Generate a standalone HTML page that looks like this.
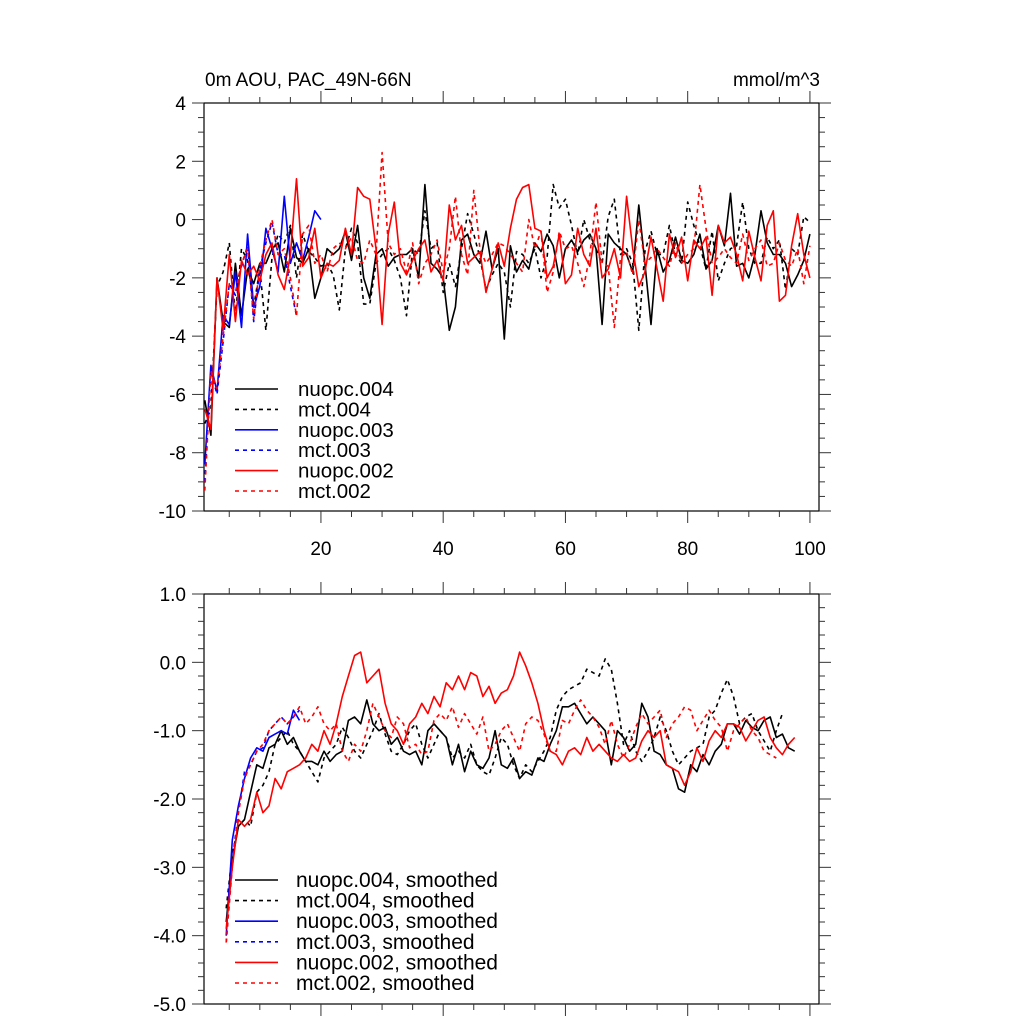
<!DOCTYPE html>
<html><head><meta charset="utf-8"><style>
html,body{margin:0;padding:0;background:#fff;}
svg{display:block;font-family:"Liberation Sans",sans-serif;}
</style></head><body>
<svg id="chart" width="1024" height="1024" viewBox="0 0 1024 1024" xmlns="http://www.w3.org/2000/svg">
<text x="205" y="86" font-size="19">0m AOU, PAC_49N-66N</text>
<text x="820" y="86" font-size="19" text-anchor="end">mmol/m^3</text>
</svg>
<script>
// ---- data ----
const rawNuopc004=[-6.2,-7.4,-2.0,-3.5,-3.7,-1.5,-3.3,-1.7,-2.2,-1.5,-1.5,-1.0,-0.8,-1.8,-0.3,-1.3,-1.5,-1.0,-2.7,-2.0,-1.0,-1.2,-1.0,-0.4,-1.4,-0.2,-2.0,-2.7,-1.2,-1.0,-1.6,-1.3,-1.2,-1.2,-1.0,-2.0,1.2,-1.5,-1.7,-2.0,-3.8,-3.0,-0.7,-0.5,-1.2,-1.5,-0.4,-1.7,-1.0,-4.1,-0.9,-1.8,-1.4,-1.7,-0.8,-1.1,-0.5,-0.9,-2.0,-1.0,-0.7,-1.1,-0.7,-0.5,-1.0,-3.6,-0.5,-0.8,-1.0,-1.2,-1.8,0.5,-1.5,-3.6,-1.0,-1.8,-1.4,-0.6,-1.4,-1.5,-1.2,-0.5,-1.7,-1.4,-0.2,-0.9,0.9,-1.6,-1.5,-2.0,-1.2,0.3,-0.8,-1.2,-1.2,-1.5,-2.3,-1.9,-1.4,-0.5];
const rawMct004=[-7.0,-6.5,-2.3,-1.8,-0.8,-3.3,-1.0,-1.4,-3.0,-1.7,-3.8,-1.3,-0.5,-0.8,-0.2,-2.0,-0.5,-1.1,-1.3,-1.6,-1.5,-1.9,-3.1,-1.0,-0.3,-0.8,-2.9,-2.9,-1.5,-1.2,-1.0,-1.4,-2.0,-3.3,-1.0,-1.2,0.3,-1.0,-0.8,-2.5,-1.5,-2.3,-1.0,0.2,-0.5,-1.3,-2.4,-1.9,-1.5,-1.8,-3.0,-1.1,-1.2,-1.5,-1.0,-2.0,-1.3,1.2,0.4,0.7,-0.2,-1.2,0.0,-0.7,-1.0,-1.5,0.1,0.7,-1.2,-1.0,-1.5,-3.8,-1.1,-0.4,-1.2,-1.2,-0.2,-1.2,-1.5,0.6,-0.2,-0.9,-1.7,-0.4,-2.1,-1.5,-1.0,-0.9,0.6,-1.0,-1.5,-1.5,-0.6,-1.0,-0.7,-2.4,-1.0,-1.2,0.1,-0.1];
const rawNuopc003=[-8.4,-5.0,-5.9,-3.3,-3.6,-1.8,-3.7,-0.5,-3.0,-2.3,-0.3,-1.0,-1.8,0.8,-1.5,-0.8,-1.4,-0.6,0.3,0.0];
const rawMct003=[-9.0,-5.2,-6.0,-4.2,-2.2,-2.6,-1.6,-0.9,-3.5,-1.7,-0.8,-0.1,-1.2,-1.2,-2.3,-3.3];
const rawNuopc002=[-6.5,-7.2,-2.0,-3.8,-1.2,-3.5,-1.4,-1.9,-1.6,-2.1,-1.2,-0.8,-1.9,-2.4,-1.2,1.4,-1.6,-1.3,-0.3,-2.0,-1.5,-1.6,-1.4,-0.3,-1.2,1.1,0.8,0.7,-1.0,-3.6,-0.5,0.6,-1.5,-1.9,-1.4,-1.0,-0.7,-1.8,-1.4,-2.1,0.5,-0.7,-0.2,-1.5,-1.3,-1.1,-2.5,-1.7,-0.8,-1.6,-0.3,0.7,1.1,1.2,-0.3,-0.4,-2.0,-1.6,-0.5,-2.2,-1.9,-0.3,-1.2,-1.6,-0.3,-2.0,-1.7,-1.0,-2.0,0.8,-1.0,-2.3,-1.8,-0.6,-1.7,-2.8,-0.5,-1.3,-0.6,-2.1,-0.7,-1.0,-0.6,-2.6,-0.2,-0.8,-0.6,-1.2,-2.1,-0.4,-1.3,-2.1,-0.2,0.3,-2.8,-2.6,-0.9,0.2,-1.2,-2.0];
const rawMct002=[-9.3,-5.2,-5.8,-4.0,-2.2,-2.5,-1.5,-1.0,-3.4,-1.6,-0.7,0.0,-1.2,-1.0,-2.0,-3.3,-0.5,-0.2,-1.5,-1.2,-1.8,-1.0,-0.8,-1.0,-0.6,-1.4,-1.5,-0.7,-1.2,2.3,-0.8,-1.2,-1.0,-1.8,-0.8,-2.2,-1.5,-1.2,-0.7,-1.8,-1.0,0.8,-1.2,-1.9,1.0,-1.0,-1.5,-1.2,-0.8,-0.9,-1.2,-1.5,-1.8,0.0,-1.0,-0.4,-2.5,-1.8,-0.4,-1.0,-0.9,-1.5,-2.3,-1.2,0.6,-1.5,-1.6,-3.7,-1.3,-1.1,-1.9,0.0,-1.5,-1.3,-1.0,-1.3,-1.6,-0.8,-1.5,-1.2,-1.0,1.2,-0.3,-1.5,-1.3,-1.0,-1.3,-1.5,-0.5,-1.4,-1.0,-0.7,-1.6,-1.5,-0.8,-1.4,-1.6,-1.0,-2.2,-0.9];
const smNuopc004=[-3.8,-2.9,-2.4,-2.3,-1.9,-1.5,-1.55,-1.25,-1.2,-1.0,-1.2,-1.1,-1.3,-1.45,-1.45,-1.5,-1.3,-1.45,-1.35,-1.3,-0.85,-0.8,-0.9,-0.55,-0.9,-1.0,-0.95,-1.2,-1.1,-1.3,-1.35,-1.3,-1.5,-1.0,-0.9,-1.0,-1.1,-1.5,-1.2,-1.6,-1.3,-1.5,-1.55,-1.4,-1.0,-1.5,-1.55,-1.4,-1.7,-1.6,-1.65,-1.4,-1.45,-1.2,-1.0,-0.65,-0.65,-0.6,-0.75,-0.9,-0.8,-0.9,-1.0,-1.5,-1.0,-1.1,-1.3,-1.2,-0.6,-0.8,-1.3,-1.35,-1.5,-1.55,-1.85,-1.9,-1.5,-1.6,-1.35,-1.5,-1.3,-1.2,-0.9,-0.9,-1.05,-0.85,-0.95,-1.0,-0.85,-0.8,-1.1,-1.05,-1.25,-1.3];
const smMct004=[-3.6,-2.8,-2.4,-2.3,-2.4,-1.9,-1.8,-1.6,-1.2,-1.1,-1.0,-1.2,-1.3,-1.45,-1.6,-1.75,-1.4,-1.3,-1.2,-0.95,-1.1,-1.3,-1.4,-1.2,-1.0,-0.75,-1.05,-1.3,-1.35,-1.2,-1.0,-0.9,-1.2,-1.4,-1.2,-1.0,-1.1,-1.4,-1.3,-1.4,-1.2,-1.5,-1.6,-1.65,-1.4,-1.1,-1.2,-1.5,-1.7,-1.5,-1.6,-1.45,-1.3,-1.1,-0.7,-0.5,-0.4,-0.35,-0.3,-0.1,-0.15,-0.2,0.05,-0.1,-0.6,-1.2,-1.0,-1.3,-1.45,-1.3,-1.1,-0.8,-1.0,-1.3,-1.5,-1.4,-1.3,-1.25,-1.2,-0.8,-0.7,-0.45,-0.25,-0.5,-0.9,-0.8,-0.75,-1.0,-1.15,-1.3,-1.0,-0.75];
const smNuopc003=[-4.0,-2.6,-2.1,-1.7,-1.4,-1.25,-1.3,-1.1,-1.05,-1.0,-1.05,-0.7,-0.85];
const smMct003=[-4.1,-2.9,-2.2,-1.6,-1.5,-1.3,-1.25,-1.0,-0.9,-0.8,-0.9,-0.8,-0.7];
const smNuopc002=[-3.9,-3.0,-2.3,-2.4,-2.3,-1.9,-2.2,-2.1,-1.7,-1.85,-1.6,-1.55,-1.5,-1.4,-1.2,-1.3,-1.0,-1.2,-0.9,-0.5,-0.2,0.1,0.15,-0.3,-0.2,-0.1,-0.6,-0.9,-1.0,-1.2,-0.9,-0.8,-0.6,-0.75,-0.5,-0.65,-0.3,-0.4,-0.2,-0.4,-0.15,-0.2,-0.5,-0.35,-0.6,-0.45,-0.4,-0.2,0.15,-0.05,-0.3,-0.6,-1.0,-1.3,-1.35,-1.5,-1.3,-1.25,-1.35,-1.1,-1.3,-1.2,-1.3,-1.4,-1.45,-1.35,-1.45,-1.4,-1.15,-1.0,-1.1,-1.0,-1.5,-1.55,-1.6,-1.8,-1.6,-1.25,-1.45,-1.15,-1.0,-1.1,-0.9,-0.9,-0.95,-1.15,-1.0,-0.85,-0.8,-1.1,-1.25,-1.35,-1.2,-1.1];
const smMct002=[-4.1,-3.0,-2.2,-1.7,-1.5,-1.3,-1.2,-1.0,-0.9,-0.8,-0.9,-0.8,-0.65,-0.9,-0.8,-0.65,-0.9,-1.0,-0.9,-1.3,-1.45,-1.2,-1.3,-1.0,-0.6,-0.8,-1.0,-1.1,-0.8,-0.9,-1.25,-1.2,-1.35,-1.3,-0.85,-0.75,-0.85,-0.65,-0.95,-0.75,-0.9,-1.05,-0.8,-1.3,-1.2,-1.0,-0.9,-1.1,-1.3,-0.9,-0.8,-0.85,-1.05,-1.3,-1.3,-0.85,-0.9,-0.7,-0.55,-0.7,-0.8,-0.95,-1.2,-0.85,-1.2,-1.4,-1.2,-0.95,-0.75,-0.9,-0.8,-0.7,-1.1,-0.9,-0.8,-0.65,-0.7,-1.0,-0.85,-0.7,-0.85,-0.95,-1.3,-1.0,-0.9,-0.8,-1.0,-1.1,-1.3,-1.35,-1.4];
const rawStartYear=1;
const smStartYear=4.5;
const xTickLabels=[20,40,60,80,100];
const topYTicks=[4,2,0,-2,-4,-6,-8,-10];
const botYTicks=["1.0","0.0","-1.0","-2.0","-3.0","-4.0","-5.0"];
const topLegend=["nuopc.004","mct.004","nuopc.003","mct.003","nuopc.002","mct.002"];
const botLegend=["nuopc.004, smoothed","mct.004, smoothed","nuopc.003, smoothed","mct.003, smoothed","nuopc.002, smoothed","mct.002, smoothed"];

// ---- layout ----
const svg=document.getElementById('chart');
const NS='http://www.w3.org/2000/svg';
const L=204,R=819;
const xs=yr=>204.8+(yr-1)*6.1125;
const pTop={t:103,b:511,ymin:-10,ymax:4,step:2,minor:0.5};
const pBot={t:594,b:1004,ymin:-5,ymax:1,step:1,minor:0.2};
function ys(p,v){return p.b-(v-p.ymin)/(p.ymax-p.ymin)*(p.b-p.t);}
function mk(tag,attrs,parent){const e=document.createElementNS(NS,tag);for(const k in attrs)e.setAttribute(k,attrs[k]);(parent||svg).appendChild(e);return e;}
const styles=[{c:'#000',d:''},{c:'#000',d:'4,4'},{c:'#0000ff',d:''},{c:'#0000ff',d:'4,4'},{c:'#ff0000',d:''},{c:'#ff0000',d:'4,4'}];

function frame(p,name,labelsX){
  const g=mk('g',{});
  
  
  mk('rect',{x:L,y:p.t,width:R-L,height:p.b-p.t,fill:'none',stroke:'#000','stroke-width':1.2},g);
  const n=Math.round((p.ymax-p.ymin)/p.minor);
  const per=Math.round(p.step/p.minor);
  for(let i=0;i<=n;i++){
    const v=p.ymin+i*p.minor;
    const y=ys(p,v);const isMaj=(i%per)===0;const len=isMaj?12:6;
    mk('line',{x1:L,x2:L-len,y1:y,y2:y,stroke:'#333'},g);
    mk('line',{x1:R,x2:R+len,y1:y,y2:y,stroke:'#333'},g);
  }
  for(let yr=5;yr<=100;yr+=5){
    const x=xs(yr);const isMaj=yr%20===0;const len=isMaj?12:6;
    mk('line',{x1:x,x2:x,y1:p.b,y2:p.b+len,stroke:'#333'},g);
    mk('line',{x1:x,x2:x,y1:p.t,y2:p.t-len,stroke:'#333'},g);
  }
  if(labelsX){
    xTickLabels.forEach(v=>{const t=mk('text',{x:xs(v),y:p.b+44,'font-size':19,'text-anchor':'middle'},g);t.textContent=v;
      
      });
  }
}
frame(pTop,'top-panel',true);
frame(pBot,'bottom-panel',false);
topYTicks.forEach(v=>{const t=mk('text',{x:L-18,y:ys(pTop,v)+7,'font-size':19,'text-anchor':'end'});t.textContent=v;
  
  });
botYTicks.forEach(s=>{const t=mk('text',{x:L-18,y:ys(pBot,parseFloat(s))+7,'font-size':19,'text-anchor':'end'});t.textContent=s;
  
  });

function series(p,arr,start,si,name){
  const pts=arr.map((v,i)=>xs(start+i).toFixed(1)+','+ys(p,v).toFixed(1)).join(' ');
  const e=mk('polyline',{points:pts,fill:'none',stroke:styles[si].c,'stroke-width':1.6,'stroke-dasharray':styles[si].d,'stroke-linejoin':'round'});
  
  
}
series(pTop,rawNuopc004,rawStartYear,0,'line-nuopc-004');
series(pTop,rawMct004,rawStartYear,1,'line-mct-004');
series(pTop,rawNuopc003,rawStartYear,2,'line-nuopc-003');
series(pTop,rawMct003,rawStartYear,3,'line-mct-003');
series(pTop,rawNuopc002,rawStartYear,4,'line-nuopc-002');
series(pTop,rawMct002,rawStartYear,5,'line-mct-002');
series(pBot,smNuopc004,smStartYear,0,'line-nuopc-004-smoothed');
series(pBot,smMct004,smStartYear,1,'line-mct-004-smoothed');
series(pBot,smNuopc003,smStartYear,2,'line-nuopc-003-smoothed');
series(pBot,smMct003,smStartYear,3,'line-mct-003-smoothed');
series(pBot,smNuopc002,smStartYear,4,'line-nuopc-002-smoothed');
series(pBot,smMct002,smStartYear,5,'line-mct-002-smoothed');

function legend(labels,y0,dy,tx,name,fs){
  labels.forEach((s,i)=>{
    const y=y0+i*dy;
    const g=mk('g',{});
    
    
    mk('line',{x1:235,x2:278,y1:y,y2:y,stroke:styles[i].c,'stroke-width':1.6,'stroke-dasharray':styles[i].d},g);
    const t=mk('text',{x:tx,y:y+7,'font-size':fs},g);t.textContent=s;
  });
}
legend(topLegend,389,20.4,298,'top-legend',20.5);
legend(botLegend,880,20.6,296,'bottom-legend',21);
</script>
</body></html>
